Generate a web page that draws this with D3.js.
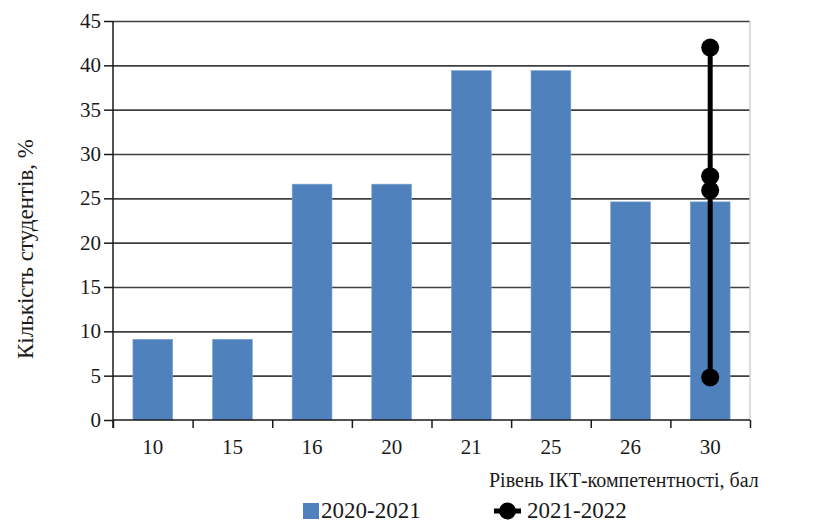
<!DOCTYPE html>
<html>
<head>
<meta charset="UTF-8">
<script src="https://d3js.org/d3.v7.min.js"></script>
</head>
<body style="margin:0">
<script>
    // categories (score) and series
    const categories = ["10", "15", "16", "20", "21", "25", "26", "30"];
    const series2020 = [9.1, 9.1, 26.6, 26.6, 39.4, 39.4, 24.6, 24.6];
    // second series: all of its points sit on the "30" category
    const series2021Category = "30";
    const series2021 = [42.0, 27.5, 25.9, 4.8];
    const yTicks = [0, 5, 10, 15, 20, 25, 30, 35, 40, 45];
    const seriesNames = ["2020-2021", "2021-2022"];

    const W = 813, H = 522;
    const plotLeft = 113, plotRight = 750, plotTop = 21, plotBottom = 420;
    const fontStack = '"Liberation Serif", serif';

    const svg = d3.select("body").append("svg")
        .attr("width", W)
        .attr("height", H);

    const x = d3.scaleBand()
        .domain(categories)
        .range([plotLeft, plotRight])
        .paddingInner(0.5)
        .paddingOuter(0.25);

    // only for the tick marks on the category boundaries
    const xEdges = d3.scaleLinear()
        .domain([0, categories.length])
        .range([plotLeft, plotRight]);

    const y = d3.scaleLinear()
        .domain([0, 45])
        .range([plotBottom, plotTop]);

    // grid lines
    const grid = svg.append("g")
        .attr("transform", `translate(${plotLeft},0)`)
        .call(d3.axisLeft(y).tickValues(yTicks.slice(1)).tickSize(-(plotRight - plotLeft)).tickFormat(""));
    grid.select(".domain").remove();
    grid.selectAll("line").attr("stroke", "#404040").attr("stroke-width", 1.6);

    // right border of plot area
    svg.append("line")
        .attr("x1", plotRight).attr("x2", plotRight)
        .attr("y1", y(45)).attr("y2", y(0))
        .attr("stroke", "#d0d0d0")
        .attr("stroke-width", 1.5);

    // bars
    svg.append("g")
        .selectAll("rect")
        .data(categories)
        .join("rect")
        .attr("x", d => x(d))
        .attr("y", (d, i) => y(series2020[i]))
        .attr("width", x.bandwidth())
        .attr("height", (d, i) => y(0) - y(series2020[i]))
        .attr("fill", "#4f81bd")
        .attr("stroke", "#7fa3d3")
        .attr("stroke-width", 0.6);

    // y axis: ticks from d3, labels drawn as plain texts
    const yAxis = svg.append("g")
        .attr("transform", `translate(${plotLeft},0)`)
        .call(d3.axisLeft(y).tickValues(yTicks).tickSize(9).tickFormat(""));
    yAxis.select(".domain").remove();
    yAxis.append("line")
        .attr("x1", 0).attr("x2", 0)
        .attr("y1", y(45)).attr("y2", y(0) + 8);
    yAxis.selectAll("line").attr("stroke", "#1a1a1a").attr("stroke-width", 1.5);

    svg.append("g")
        .selectAll("text")
        .data(yTicks)
        .join("text")
        .attr("x", plotLeft - 12)
        .attr("y", d => y(d))
        .attr("dy", "0.34em")
        .attr("text-anchor", "end")
        .attr("fill", "#1a1a1a")
        .style("font-family", fontStack)
        .style("font-size", "21px")
        .text(d => d);

    // x axis: boundary ticks and centred labels
    const xAxis = svg.append("g")
        .attr("transform", `translate(0,${plotBottom})`)
        .call(d3.axisBottom(xEdges).tickValues(d3.range(categories.length + 1)).tickSize(8).tickFormat(""));
    xAxis.select(".domain").remove();
    xAxis.append("line")
        .attr("x1", plotLeft).attr("x2", plotRight)
        .attr("y1", 0).attr("y2", 0);
    xAxis.selectAll("line").attr("stroke", "#1a1a1a").attr("stroke-width", 1.5);

    svg.append("g")
        .selectAll("text")
        .data(categories)
        .join("text")
        .attr("x", d => x(d) + x.bandwidth() / 2)
        .attr("y", plotBottom + 34)
        .attr("text-anchor", "middle")
        .attr("fill", "#1a1a1a")
        .style("font-family", fontStack)
        .style("font-size", "21px")
        .text(d => d);

    // line series 2021-2022
    const cx = x(series2021Category) + x.bandwidth() / 2;
    svg.append("path")
        .datum(series2021)
        .attr("fill", "none")
        .attr("stroke", "#000")
        .attr("stroke-width", 5)
        .attr("d", d3.line().x(() => cx).y(d => y(d)));
    svg.append("g")
        .selectAll("circle")
        .data(series2021)
        .join("circle")
        .attr("cx", cx)
        .attr("cy", d => y(d))
        .attr("r", 9)
        .attr("fill", "#000");

    // axis titles
    svg.append("text")
        .attr("transform", "translate(33,249) rotate(-90)")
        .attr("text-anchor", "middle")
        .attr("fill", "#1a1a1a")
        .style("font-family", fontStack)
        .style("font-size", "23px")
        .text("Кількість студентів, %");

    svg.append("text")
        .attr("x", 489)
        .attr("y", 487)
        .attr("fill", "#1a1a1a")
        .style("font-family", fontStack)
        .style("font-size", "20px")
        .text("Рівень ІКТ-компетентності, бал");

    // legend
    const legend = svg.append("g");
    legend.append("rect")
        .attr("x", 303).attr("y", 503)
        .attr("width", 16).attr("height", 16)
        .attr("fill", "#4f81bd");
    legend.append("text")
        .attr("x", 321).attr("y", 518)
        .attr("fill", "#1a1a1a")
        .style("font-family", fontStack)
        .style("font-size", "23px")
        .text(seriesNames[0]);
    legend.append("line")
        .attr("x1", 494).attr("x2", 521)
        .attr("y1", 511).attr("y2", 511)
        .attr("stroke", "#000").attr("stroke-width", 5);
    legend.append("circle")
        .attr("cx", 507.5).attr("cy", 511)
        .attr("r", 8.5)
        .attr("fill", "#000");
    legend.append("text")
        .attr("x", 527).attr("y", 518)
        .attr("fill", "#1a1a1a")
        .style("font-family", fontStack)
        .style("font-size", "23px")
        .text(seriesNames[1]);
</script>
</body>
</html>
